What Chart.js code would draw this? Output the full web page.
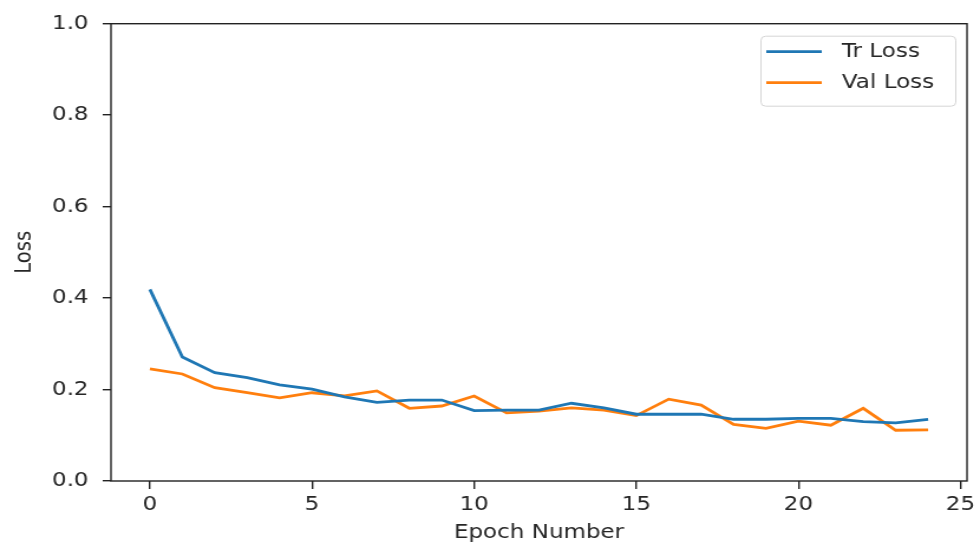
<!DOCTYPE html>
<html>
<head>
<meta charset="utf-8">
<script src="https://cdn.jsdelivr.net/npm/chart.js@4/dist/chart.umd.min.js"></script>
<style>
  html, body { margin: 0; padding: 0; background: #fff; overflow: hidden; }
  /* figure is drawn narrower and stretched sideways to fill 980px */
  #wrap { width: 830px; height: 545px; transform: scaleX(1.1807); transform-origin: 0 0; }
</style>
</head>
<body>
<div id="wrap"><canvas id="lossChart"></canvas></div>
<script>
// loss per epoch
var epochs = [0, 1, 2, 3, 4, 5, 6, 7, 8, 9, 10, 11, 12, 13, 14, 15, 16, 17, 18, 19, 20, 21, 22, 23, 24];
var trLoss = [0.419, 0.271, 0.237, 0.226, 0.210, 0.201, 0.184, 0.172, 0.177, 0.177, 0.154, 0.155, 0.155,
              0.170, 0.160, 0.146, 0.146, 0.146, 0.135, 0.135, 0.137, 0.137, 0.130, 0.127, 0.135];
var valLoss = [0.245, 0.234, 0.204, 0.193, 0.182, 0.193, 0.186, 0.197, 0.159, 0.164, 0.186, 0.149, 0.153,
               0.160, 0.155, 0.143, 0.179, 0.166, 0.124, 0.115, 0.131, 0.122, 0.159, 0.111, 0.112];
var xTicks = [0, 5, 10, 15, 20, 25];
var yTicks = [0, 0.2, 0.4, 0.6, 0.8, 1.0];

var textColor = '#262626';
var fontFamily = '"DejaVu Sans", sans-serif';
var fontSize = 19.5;

function toPoints(ys) {
    return epochs.map(function (e, i) { return { x: e, y: ys[i] }; });
}

// box around the plot and the legend in the top-right corner
var framePlugin = {
    id: 'frame',
    afterDraw: function (chart) {
        var c = chart.ctx, a = chart.chartArea;
        c.save();
        c.strokeStyle = '#222';
        c.lineWidth = 1.4;
        c.strokeRect(a.left, a.top, a.right - a.left, a.bottom - a.top);

        var bx = a.right - 175, by = a.top + 12, bw = 165, bh = 70;
        c.strokeStyle = '#d5d5d5';
        c.lineWidth = 1;
        c.fillStyle = 'rgba(255,255,255,0.8)';
        c.beginPath();
        c.roundRect(bx + 0.5, by + 0.5, bw, bh, 4);
        c.fill();
        c.stroke();

        c.font = fontSize + 'px ' + fontFamily;
        c.textBaseline = 'middle';
        chart.data.datasets.forEach(function (ds, i) {
            var ly = by + 16 + i * 31;
            c.strokeStyle = ds.borderColor;
            c.lineWidth = 2.8;
            c.beginPath();
            c.moveTo(bx + 5, ly);
            c.lineTo(bx + 52, ly);
            c.stroke();
            c.fillStyle = textColor;
            c.fillText(ds.label, bx + 69, ly);
        });
        c.restore();
    }
};

var ctx = document.getElementById('lossChart').getContext('2d');
var lossChart = new Chart(ctx, {
    type: 'line',
    data: {
        datasets: [{
            label: 'Tr Loss',
            data: toPoints(trLoss),
            borderColor: '#1f77b4',
            borderWidth: 2.8,
            pointRadius: 0,
            tension: 0
        }, {
            label: 'Val Loss',
            data: toPoints(valLoss),
            borderColor: '#ff7f0e',
            borderWidth: 2.8,
            pointRadius: 0,
            tension: 0
        }]
    },
    options: {
        responsive: true,
        maintainAspectRatio: false,
        animation: false,
        devicePixelRatio: 1,
        layout: { padding: { top: 23, right: 8.5, left: 0, bottom: 0 } },
        plugins: {
            legend: { display: false },
            tooltip: { enabled: false }
        },
        scales: {
            x: {
                type: 'linear',
                min: -1.2,
                max: 25.2,
                afterBuildTicks: function (scale) {
                    scale.ticks = xTicks.map(function (v) { return { value: v }; });
                },
                afterFit: function (scale) { scale.height = 64; },
                grid: { drawOnChartArea: false, drawTicks: true, tickLength: 8, color: '#222', lineWidth: 1.4 },
                border: { display: false },
                ticks: {
                    color: textColor,
                    font: { family: fontFamily, size: fontSize },
                    padding: 4,
                    maxRotation: 0,
                    callback: function (v) { return String(v); }
                },
                title: {
                    display: true,
                    text: 'Epoch Number',
                    color: textColor,
                    font: { family: fontFamily, size: fontSize },
                    padding: { top: 4, bottom: 0 }
                }
            },
            y: {
                min: 0,
                max: 1.0,
                afterBuildTicks: function (scale) {
                    scale.ticks = yTicks.map(function (v) { return { value: v }; });
                },
                afterFit: function (scale) { scale.width = 94; },
                grid: { drawOnChartArea: false, drawTicks: true, tickLength: 7, color: '#222', lineWidth: 1.4 },
                border: { display: false },
                ticks: {
                    color: textColor,
                    font: { family: fontFamily, size: fontSize },
                    padding: 12,
                    callback: function (v) { return v.toFixed(1); }
                },
                title: {
                    display: true,
                    text: 'Loss',
                    color: textColor,
                    font: { family: fontFamily, size: fontSize },
                    padding: { top: 9, bottom: 0 }
                }
            }
        }
    },
    plugins: [framePlugin]
});
</script>
</body>
</html>
